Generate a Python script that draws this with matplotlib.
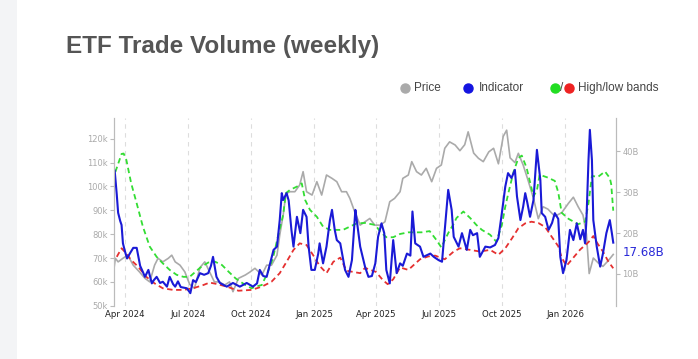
import pandas as pd
import matplotlib
matplotlib.use("Agg")
import matplotlib.pyplot as plt
import matplotlib.dates as mdates
from matplotlib.lines import Line2D
from matplotlib.patches import Rectangle

# ---------------- data ----------------
# BTC price, thousands USD (left axis)
price_dates = [
    "2024-03-16", "2024-03-18", "2024-03-22", "2024-03-29", "2024-04-05", "2024-04-13",
    "2024-04-22", "2024-04-30", "2024-05-07", "2024-05-14", "2024-05-19", "2024-05-26",
    "2024-06-03", "2024-06-08", "2024-06-13", "2024-06-20", "2024-06-27", "2024-07-04",
    "2024-07-11", "2024-07-19", "2024-07-26", "2024-08-02", "2024-08-09", "2024-08-16",
    "2024-08-24", "2024-08-31", "2024-09-05", "2024-09-13", "2024-09-23", "2024-09-30",
    "2024-10-07", "2024-10-17", "2024-10-24", "2024-10-31", "2024-11-08", "2024-11-12",
    "2024-11-17", "2024-11-21", "2024-11-27", "2024-12-04", "2024-12-11", "2024-12-16",
    "2024-12-21", "2024-12-29", "2025-01-05", "2025-01-12", "2025-01-19", "2025-01-27",
    "2025-02-03", "2025-02-10", "2025-02-17", "2025-02-22", "2025-03-01", "2025-03-09",
    "2025-03-16", "2025-03-23", "2025-03-30", "2025-04-07", "2025-04-14", "2025-04-21",
    "2025-04-28", "2025-05-06", "2025-05-10", "2025-05-18", "2025-05-23", "2025-05-30",
    "2025-06-06", "2025-06-13", "2025-06-21", "2025-06-28", "2025-07-05", "2025-07-10",
    "2025-07-17", "2025-07-25", "2025-08-01", "2025-08-08", "2025-08-13", "2025-08-21",
    "2025-08-28", "2025-09-04", "2025-09-12", "2025-09-19", "2025-09-26", "2025-10-03",
    "2025-10-08", "2025-10-13", "2025-10-20", "2025-10-25", "2025-11-01", "2025-11-08",
    "2025-11-16", "2025-11-23", "2025-11-30", "2025-12-07", "2025-12-17", "2025-12-27",
    "2026-01-06", "2026-01-13", "2026-01-20", "2026-01-27", "2026-02-01", "2026-02-05",
    "2026-02-11", "2026-02-18", "2026-02-25", "2026-03-05", "2026-03-12",
]
price_k = [
    65.7, 69.9, 68.4, 69.9, 71.2, 67,
    64.2, 61.5, 60, 67, 69.9, 68.4,
    69.9, 71.2, 68.4, 67, 64.2, 59,
    57.3, 66, 68.4, 64.2, 60, 60,
    58.7, 60, 55.9, 61.5, 62.9, 64.2,
    65.7, 62.9, 67, 67, 71.2, 79.6,
    88, 97, 97.8, 97.8, 100.6, 106.2,
    97.8, 96.4, 102, 96.4, 104.8, 103.4,
    102, 97.8, 97.8, 95, 89.4, 83.8,
    85.2, 86.6, 83.8, 83.8, 85.2, 93.6,
    95, 97.8, 103.4, 104.8, 110.4, 106.2,
    104.8, 107.6, 102, 107.6, 109, 116,
    118.7, 117.4, 115, 117.5, 122.9, 114,
    111.8, 110.4, 114.5, 116, 109.5, 121,
    123.6, 112, 110, 113.9, 109, 102.7,
    95, 86.5, 91.5, 90.5, 87.5, 89,
    93, 95.5, 91.5, 88, 80, 63.5,
    70, 68, 66.5, 69, 71.5,
]

# Indicator: ETF trade volume, billions USD (right axis)
ind_dates = [
    "2024-03-17", "2024-03-20", "2024-03-22", "2024-03-25", "2024-03-27", "2024-03-29",
    "2024-04-01", "2024-04-04", "2024-04-08", "2024-04-13", "2024-04-18", "2024-04-23",
    "2024-04-27", "2024-04-30", "2024-05-05", "2024-05-10", "2024-05-13", "2024-05-17",
    "2024-05-22", "2024-05-26", "2024-06-01", "2024-06-05", "2024-06-10", "2024-06-13",
    "2024-06-17", "2024-06-21", "2024-06-30", "2024-07-05", "2024-07-09", "2024-07-13",
    "2024-07-19", "2024-07-25", "2024-07-31", "2024-08-04", "2024-08-07", "2024-08-12",
    "2024-08-17", "2024-08-27", "2024-09-05", "2024-09-15", "2024-09-25", "2024-10-04",
    "2024-10-10", "2024-10-14", "2024-10-19", "2024-10-24", "2024-10-29", "2024-11-03",
    "2024-11-08", "2024-11-12", "2024-11-15", "2024-11-17", "2024-11-22", "2024-11-25",
    "2024-11-29", "2024-12-02", "2024-12-07", "2024-12-12", "2024-12-16", "2024-12-21",
    "2024-12-24", "2024-12-28", "2025-01-02", "2025-01-07", "2025-01-09", "2025-01-14",
    "2025-01-19", "2025-01-24", "2025-01-27", "2025-01-31", "2025-02-03", "2025-02-08",
    "2025-02-15", "2025-02-20", "2025-02-25", "2025-03-02", "2025-03-04", "2025-03-09",
    "2025-03-16", "2025-03-21", "2025-03-26", "2025-03-31", "2025-04-04", "2025-04-09",
    "2025-04-13", "2025-04-16", "2025-04-21", "2025-04-26", "2025-05-01", "2025-05-06",
    "2025-05-10", "2025-05-16", "2025-05-21", "2025-05-24", "2025-05-28", "2025-06-04",
    "2025-06-09", "2025-06-19", "2025-06-24", "2025-07-01", "2025-07-06", "2025-07-10",
    "2025-07-15", "2025-07-20", "2025-07-23", "2025-07-30", "2025-08-04", "2025-08-11",
    "2025-08-16", "2025-08-20", "2025-08-26", "2025-08-30", "2025-09-07", "2025-09-14",
    "2025-09-21", "2025-09-26", "2025-10-01", "2025-10-06", "2025-10-10", "2025-10-15",
    "2025-10-20", "2025-10-23", "2025-10-28", "2025-11-01", "2025-11-04", "2025-11-07",
    "2025-11-11", "2025-11-16", "2025-11-21", "2025-11-26", "2025-11-28", "2025-12-03",
    "2025-12-08", "2025-12-13", "2025-12-17", "2025-12-22", "2025-12-25", "2025-12-29",
    "2026-01-03", "2026-01-08", "2026-01-13", "2026-01-18", "2026-01-23", "2026-01-27",
    "2026-01-30", "2026-02-01", "2026-02-04", "2026-02-06", "2026-02-09", "2026-02-11",
    "2026-02-16", "2026-02-21", "2026-02-25", "2026-03-02", "2026-03-07", "2026-03-10",
    "2026-03-12",
]
ind_b = [
    35.3, 29.5, 25, 23, 22, 17.5,
    15.5, 13.8, 15, 16.4, 16.4, 12,
    10.5, 9.3, 11, 7.7, 8.5, 9.3,
    7.8, 8.1, 6.9, 9.3, 7.5, 6.9,
    8.2, 6.8, 6.5, 5.3, 8.5, 8.0,
    10.2, 9.8, 10.2, 12, 14.2, 9.3,
    7.8, 6.9, 7.8, 6.9, 7.8, 6.9,
    7.7, 11, 9.5, 9.3, 12.6, 15.9,
    16.7, 23.2, 29.8, 28.1, 29.8, 28,
    20.8, 16.7, 24, 20, 25.7, 24,
    16.7, 11, 11, 15, 17.5, 12.6,
    16.7, 23.2, 25.7, 20.8, 18.3, 17.5,
    11, 9.3, 13.4, 25.7, 23.2, 16.7,
    11.8, 9.3, 9.5, 12.6, 19.1, 22.4,
    20, 11, 7.7, 18.3, 10.2, 12.6,
    12, 15, 14.5, 25.3, 17.5, 16.7,
    14.2, 15, 14.2, 13.4, 13, 20.8,
    30.6, 25.7, 19.1, 16.7, 20, 15.9,
    20.8, 19.5, 20, 14.2, 16.7, 16.5,
    17.1, 18.8, 24.9, 31.4, 34.7, 33.5,
    35.5, 29, 23.2, 26.5, 29.8, 27.5,
    24, 28.1, 40.4, 33, 24.9, 24,
    20.8, 22.5, 24.9, 23.5, 14.2, 10.2,
    13.4, 20.8, 18.3, 22.4, 18.5, 20.8,
    17.5, 23.2, 37.9, 45.3, 37.9, 23.2,
    16.7, 11.8, 15, 20, 23.2, 20,
    17.68,
]

# High band (green) and low band (red), billions USD
high_dates = [
    "2024-03-18", "2024-03-27", "2024-03-30", "2024-04-03", "2024-04-10", "2024-04-18",
    "2024-04-27", "2024-05-07", "2024-05-17", "2024-05-26", "2024-06-05", "2024-06-15",
    "2024-06-25", "2024-07-04", "2024-07-19", "2024-07-31", "2024-08-10", "2024-08-20",
    "2024-08-30", "2024-09-09", "2024-09-23", "2024-10-02", "2024-10-10", "2024-10-17",
    "2024-10-26", "2024-11-02", "2024-11-10", "2024-11-17", "2024-11-21", "2024-11-27",
    "2024-12-07", "2024-12-14", "2024-12-19", "2024-12-26", "2025-01-05", "2025-01-14",
    "2025-01-24", "2025-02-12", "2025-02-22", "2025-03-04", "2025-03-16", "2025-03-31",
    "2025-04-07", "2025-04-16", "2025-04-26", "2025-05-06", "2025-05-18", "2025-06-06",
    "2025-06-18", "2025-06-28", "2025-07-05", "2025-07-15", "2025-07-23", "2025-07-27",
    "2025-08-06", "2025-08-16", "2025-08-25", "2025-09-02", "2025-09-14", "2025-09-23",
    "2025-10-01", "2025-10-06", "2025-10-11", "2025-10-18", "2025-10-25", "2025-10-30",
    "2025-11-06", "2025-11-16", "2025-11-21", "2025-11-25", "2025-12-07", "2025-12-17",
    "2025-12-22", "2025-12-27", "2026-01-06", "2026-01-20", "2026-01-30", "2026-02-04",
    "2026-02-09", "2026-02-18", "2026-02-28", "2026-03-07", "2026-03-09", "2026-03-12",
]
high_b = [
    35, 39.4, 39.5, 37.9, 32.2, 27.3,
    21.6, 16.7, 14.2, 12.6, 11, 9.8,
    9.3, 9.3, 11.5, 12.8, 13, 12.2,
    10.5, 8.9, 7.3, 6.5, 7, 7.3,
    10.6, 13.8, 19.6, 24.5, 29.8, 30.6,
    31.4, 32.2, 28.1, 25.7, 24, 21.6,
    20.8, 20.8, 21.6, 22.4, 22.5, 22,
    20.4, 19, 19, 19.8, 20.2, 20.2,
    20.5, 18.3, 16.5, 20, 22.3, 23.7,
    25.3, 23.7, 22, 20.8, 19.6, 17.9,
    22, 26.5, 30.2, 35, 38.4, 39,
    36, 29, 30.5, 34.3, 33.6, 32.8,
    30, 25, 23.5, 22.2, 22.8, 27.3,
    34, 33.8, 35.1, 33.5, 32, 25.5,
]

low_dates = [
    "2024-03-20", "2024-03-27", "2024-04-03", "2024-04-10", "2024-04-20", "2024-05-02",
    "2024-05-14", "2024-05-26", "2024-06-10", "2024-06-25", "2024-07-09", "2024-07-24",
    "2024-08-02", "2024-08-14", "2024-08-29", "2024-09-13", "2024-10-02", "2024-10-17",
    "2024-10-31", "2024-11-12", "2024-11-22", "2024-12-02", "2024-12-11", "2024-12-21",
    "2024-12-31", "2025-01-09", "2025-01-19", "2025-01-29", "2025-02-08", "2025-02-17",
    "2025-02-27", "2025-03-09", "2025-03-16", "2025-04-01", "2025-04-11", "2025-04-18",
    "2025-04-26", "2025-05-06", "2025-05-18", "2025-06-04", "2025-06-16", "2025-06-26",
    "2025-07-10", "2025-07-23", "2025-08-01", "2025-08-16", "2025-08-30", "2025-09-14",
    "2025-09-26", "2025-10-06", "2025-10-16", "2025-10-25", "2025-11-04", "2025-11-13",
    "2025-11-23", "2025-12-03", "2025-12-13", "2025-12-22", "2025-12-27", "2026-01-03",
    "2026-01-13", "2026-01-23", "2026-02-04", "2026-02-11", "2026-02-17", "2026-02-25",
    "2026-03-05", "2026-03-12",
]
low_b = [
    14.2, 16.3, 15, 13.4, 11.8, 9.3,
    7.7, 6.5, 6.1, 6.1, 6.5, 7.3,
    7.9, 7.5, 6.8, 5.9, 6.1, 6.9,
    8.1, 10.2, 13, 15.9, 17.5, 17.1,
    14.5, 12, 10.2, 13, 14, 10.8,
    10.5, 10.2, 11.5, 10.5, 8.5, 7.5,
    8.7, 11.6, 11, 13.6, 14.3, 14.5,
    13.6, 15.5, 16.3, 15.9, 15.5, 15.9,
    14.7, 16.3, 18.8, 21.2, 22.4, 22.8,
    22.5, 21.5, 19, 16.8, 14, 12,
    14, 16, 17.8, 19.3, 17.5, 15.5,
    13, 11.4,
]

price_ticks = [50, 60, 70, 80, 90, 100, 110, 120]
volume_ticks = [10, 20, 30, 40]

# ---------------- figure ----------------
fig = plt.figure(figsize=(6.98, 3.59), dpi=100)
fig.patch.set_facecolor("white")
fig.add_artist(Rectangle((0, 0), 17 / 698, 1, transform=fig.transFigure,
                         facecolor="#f3f4f6", edgecolor="none", zorder=0))

fig.text(66 / 698, 1 - 47 / 359, "ETF Trade Volume (weekly)", fontsize=17.5,
         fontweight="bold", color="#555555", family="Liberation Sans",
         ha="left", va="center")

# legend drawn by hand, like the web chart
ly = 1 - 88 / 359
legend_items = [(405, "#aaaaaa"), (468, "#1414e0"), (555, "#22dd22"), (569, "#ee2222")]
for px, col in legend_items:
    fig.add_artist(Line2D([px / 698], [ly], marker="o", markersize=6.5, color=col,
                          linestyle="none", transform=fig.transFigure))
for px, txt in [(414, "Price"), (479, "Indicator"), (578, "High/low bands")]:
    fig.text(px / 698, ly, txt, fontsize=8.5, color="#444444",
             family="Liberation Sans", ha="left", va="center")
fig.text(562 / 698, ly, "/", fontsize=8.5, color="#444444",
         family="Liberation Sans", ha="center", va="center")

ax = fig.add_axes([114 / 698, 1 - 306 / 359, 502 / 698, 188 / 359])
ax2 = ax.twinx()

px_dates = pd.to_datetime(price_dates)
ax.plot(px_dates, price_k, color="#aaaaaa", lw=1.2, zorder=2)

ax2.plot(pd.to_datetime(high_dates), high_b, color="#33dd33", lw=1.3,
         linestyle=(0, (3, 2)))
ax2.plot(pd.to_datetime(low_dates), low_b, color="#e53030", lw=1.3,
         linestyle=(0, (3, 2)))
ind_x = pd.to_datetime(ind_dates)
ax2.plot(ind_x, ind_b, color="#1a1ad6", lw=1.5)

ax2.annotate(f"{ind_b[-1]:.2f}B", xy=(ind_x[-1], ind_b[-1]), xytext=(6.5, -7),
             textcoords="offset points", color="#2a2ad8", fontsize=8.5,
             ha="left", va="center")

ax.set_xlim(pd.Timestamp("2024-03-16"), pd.Timestamp("2026-03-16"))
ax.set_ylim(49.9, 128.7)
ax2.set_ylim(2.16, 48.2)

ax.set_yticks(price_ticks)
ax.set_yticklabels([f"{v}k" for v in price_ticks])
ax2.set_yticks(volume_ticks)
ax2.set_yticklabels([f"{v}B" for v in volume_ticks])

ax.xaxis.set_major_locator(mdates.MonthLocator(bymonth=[1, 4, 7, 10]))
ax.xaxis.set_major_formatter(mdates.DateFormatter("%b %Y"))
ax.tick_params(axis="x", length=0, pad=3, labelsize=6.2, labelcolor="#222222")
ax.tick_params(axis="y", length=3, width=0.8, color="#bbbbbb", labelsize=6,
               labelcolor="#aaaaaa", pad=1.5)
ax2.tick_params(axis="y", length=3, width=0.8, color="#bbbbbb", labelsize=6,
                labelcolor="#aaaaaa", pad=1.5)

ax.grid(axis="x", color="#dddddd", linestyle=(0, (4, 4)), lw=0.8)
ax.grid(axis="y", visible=False)

for a in (ax, ax2):
    a.spines["top"].set_visible(False)
    a.spines["bottom"].set_visible(False)
    a.spines["left"].set_color("#bbbbbb")
    a.spines["right"].set_color("#bbbbbb")
    a.set_facecolor("none")

fig.savefig("out.png", dpi=100)
